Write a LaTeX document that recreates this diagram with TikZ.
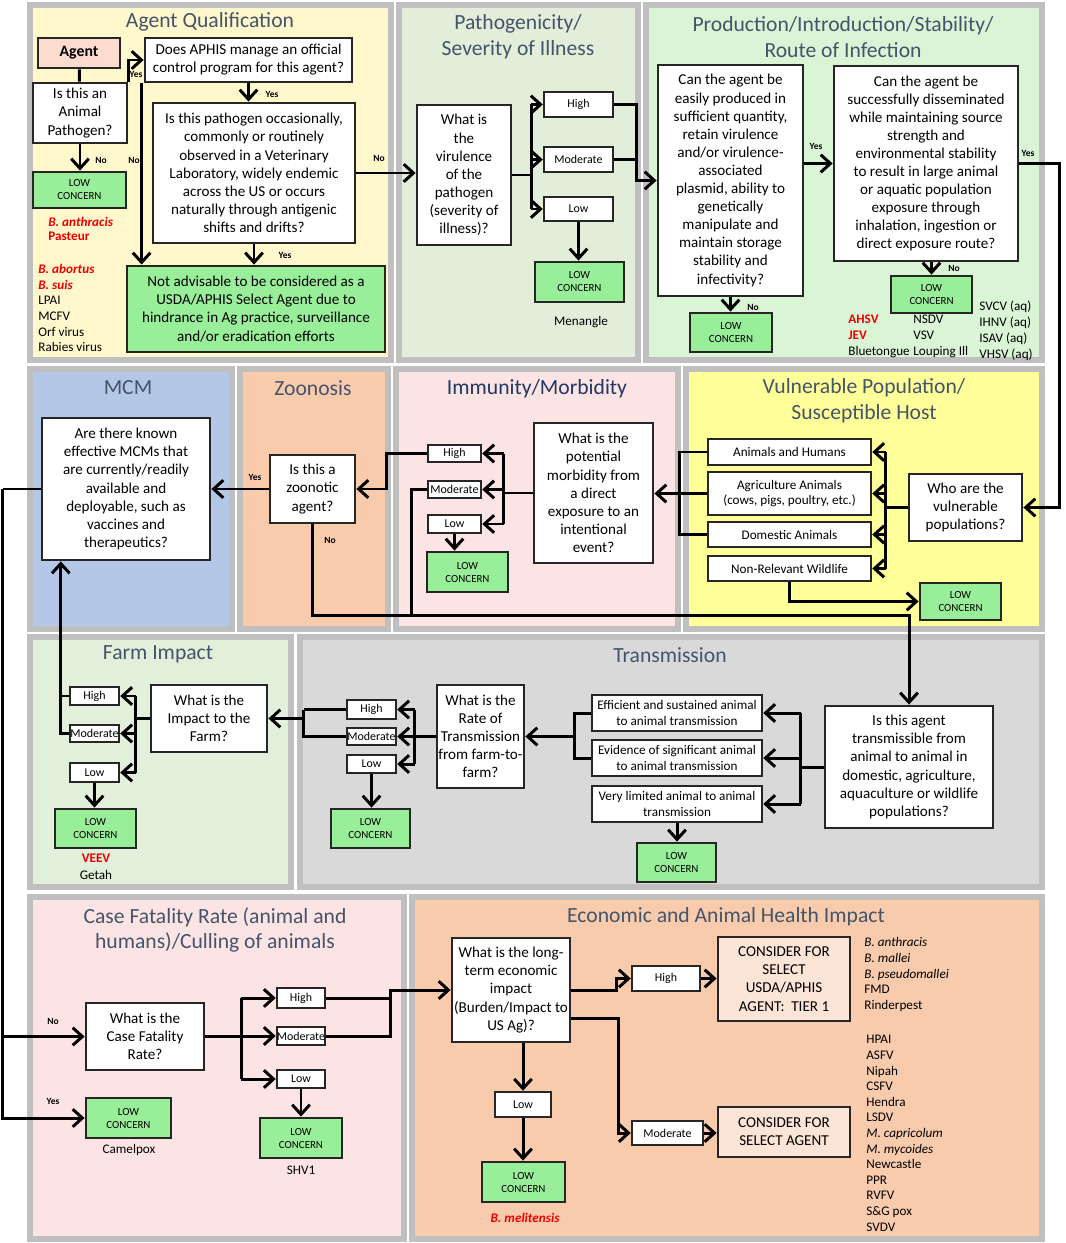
\documentclass[tikz,border=0pt]{standalone}
\usepackage{fontspec}
\setmainfont{Carlito}
\usetikzlibrary{arrows.meta,calc}

\tikzset{
  >={Straight Barb[length=5.5pt,width=10pt]},
  bb/.style args={#1/#2/#3/#4}{at={({(#1+#3)/2},{(#2+#4)/2})},
      minimum width={(#3-#1)*0.02cm}, minimum height={(#4-#2)*0.02cm}},
  panel/.style={draw=panelgray, line width=3.2pt},
  ptitle/.style={text=titlecol, font=\fontsize{12.3}{14.6}\selectfont, align=center},
  qbox/.style={draw=boxline, fill=white, line width=1.6pt, inner sep=0pt, align=center,
               font=\fontsize{8.6}{10.3}\selectfont},
  lvlbox/.style={qbox, line width=1.4pt, font=\fontsize{6.8}{7.4}\selectfont},
  hostbox/.style={qbox, line width=1.4pt, font=\fontsize{7.5}{9}\selectfont},
  lowbox/.style={qbox, fill=lowgreen, font=\fontsize{6.2}{7.4}\selectfont},
  conn/.style={line width=1.7pt, ->},
  wire/.style={line width=1.7pt},
  yn/.style={font=\bfseries\fontsize{5.4}{6}\selectfont, inner sep=0pt},
  spec/.style={font=\fontsize{7.5}{9}\selectfont, align=left, anchor=north west, inner sep=0pt},
  redsp/.style={spec, text=agentred, font=\bfseries\fontsize{7.5}{9}\selectfont},
}

\begin{document}
\begin{tikzpicture}[x=0.02cm, y=-0.02cm]
  \definecolor{panelgray}{HTML}{BFBFBF}
  \definecolor{titlecol}{HTML}{44546A}
  \definecolor{navytitle}{HTML}{1F3864}
  \definecolor{boxline}{HTML}{262626}
  \definecolor{lowgreen}{HTML}{99EE99}
  \definecolor{agentfill}{HTML}{FBDCCF}
  \definecolor{tierfill}{HTML}{FCE4D6}
  \definecolor{agentred}{HTML}{EE0000}
  \definecolor{cAQ}{HTML}{FFF8CC}
  \definecolor{cPS}{HTML}{E2EED9}
  \definecolor{cPR}{HTML}{DAF5D6}
  \definecolor{cMC}{HTML}{B4C7E7}
  \definecolor{cZO}{HTML}{F8CBAD}
  \definecolor{cIM}{HTML}{FCE4E4}
  \definecolor{cVP}{HTML}{FFFF99}
  \definecolor{cFI}{HTML}{E2EFDA}
  \definecolor{cTR}{HTML}{D9D9D9}
  \definecolor{cCF}{HTML}{FDE4E4}
  \definecolor{cEC}{HTML}{F8CBAD}
  \useasboundingbox (0,0) rectangle (1065,1243);

  % panels
  \draw[panel, fill=cAQ] ( 30,  5) rectangle ( 391, 360);
  \draw[panel, fill=cPS] (399,  5) rectangle ( 638, 360);
  \draw[panel, fill=cPR] (646,  5) rectangle (1042, 360);
  \draw[panel, fill=cMC] ( 30,369) rectangle ( 232, 629);
  \draw[panel, fill=cZO] (240,369) rectangle ( 388, 629);
  \draw[panel, fill=cIM] (396,369) rectangle ( 678, 629);
  \draw[panel, fill=cVP] (686,369) rectangle (1042, 629);
  \draw[panel, fill=cFI] ( 30,637) rectangle ( 291, 887);
  \draw[panel, fill=cTR] (300,637) rectangle (1042, 887);
  \draw[panel, fill=cCF] ( 30,897) rectangle ( 404,1239);
  \draw[panel, fill=cEC] (412,897) rectangle (1042,1239);

  \node[ptitle] (tAQ) at (210, 22) {Agent Qualification};
  \node[ptitle] (tPS) at (518, 37) {Pathogenicity/\\Severity of Illness};
  \node[ptitle] (tPR) at (843, 37) {Production/Introduction/Stability/\\Route of Infection};
  \node[ptitle] (tMC) at (128,388) {MCM};
  \node[ptitle] (tZO) at (313,388) {Zoonosis};
  \node[ptitle, text=navytitle] (tIM) at (537,389) {Immunity/Morbidity};
  \node[ptitle] (tVP) at (864,401) {Vulnerable Population/\\Susceptible Host};
  \node[ptitle] (tFI) at (158,654) {Farm Impact};
  \node[ptitle] (tTR) at (670,655) {Transmission};
  \node[ptitle] (tCF) at (215,930) {Case Fatality Rate (animal and\\humans)/Culling of animals};
  \node[ptitle] (tEC) at (726,917) {Economic and Animal Health Impact};

  % agent qualification
  \node[qbox, fill=agentfill, font=\bfseries\fontsize{9}{10}\selectfont, bb=38/38/120/68] (agent) {Agent};
  \node[qbox, bb=33/83/127/143] (isanimal) {Is this an\\Animal\\Pathogen?};
  \node[qbox, bb=145/38/352/82] (aphis) {Does APHIS manage an official\\control program for this agent?};
  \node[qbox, bb=153/103/355/243] (qpath) {Is this pathogen occasionally,\\commonly or routinely\\observed in a Veterinary\\Laboratory, widely endemic\\across the US or occurs\\naturally through antigenic\\shifts and drifts?};
  \node[qbox, fill=lowgreen, bb=127/266/385/352] (notadv) {Not advisable to be considered as a\\USDA/APHIS Select Agent due to\\hindrance in Ag practice, surveillance\\and/or eradication efforts};
  \node[lowbox, bb=33/172/126/208] (low1) {LOW\\CONCERN};

  \draw[wire] (agent) -- (isanimal);
  \draw[conn] (isanimal.north east) |- (aphis.west);
  \draw[conn] (aphis.south) -- (aphis.south |- qpath.north);
  \draw[conn] ($(aphis.south west)+(-2,0)$) -- ($(aphis.south west |- notadv.north)+(-2,0)$);
  \draw[conn] (qpath.south) -- (qpath.south |- notadv.north);
  \draw[conn] (isanimal.south) -- (isanimal.south |- low1.north);
  \node[yn] (y1) at (136, 74) {Yes};
  \node[yn] (y2) at (272, 94) {Yes};
  \node[yn] (n1) at (134,160) {No};
  \node[yn] (y3) at (285,255) {Yes};
  \node[yn] (n2) at (101,160) {No};
  \node[yn] (n3) at (379,158) {No};

  \node[redsp, font=\bfseries\itshape\fontsize{7.5}{9}\selectfont] (anth) at (48,217) {B. anthracis};
  \node[redsp] (past) at (48,232) {Pasteur};
  \node[redsp, font=\bfseries\itshape\fontsize{7.5}{8.95}\selectfont] (abort) at (38,264) {B. abortus\\B. suis};
  \node[spec, font=\fontsize{7.5}{8.95}\selectfont] (aqlist) at (38,296) {LPAI\\MCFV\\Orf virus\\Rabies virus};

  % pathogenicity
  \node[qbox, bb=417/105/511/245] (qvir) {What is\\the\\virulence\\of the\\pathogen\\(severity of\\illness)?};
  \node[lvlbox, bb=544/92/613/117] (high1) {High};
  \node[lvlbox, bb=544/147/613/172] (mod1) {Moderate};
  \node[lvlbox, bb=544/197/613/221] (low2) {Low};
  \node[lowbox, bb=535/262/624/302] (lowc2) {LOW\\CONCERN};
  \node[spec, anchor=center] (mena) at (581,322) {Menangle};

  \draw[conn] (qpath.east) -- (qpath.east -| qvir.west);
  \draw[wire] (qvir.east) -- ++(19,0) coordinate (b1);
  \draw[wire] (b1 |- high1) -- (b1 |- low2);
  \foreach \n in {high1,mod1,low2}
    \draw[conn] (b1 |- \n.west) -- (\n.west);
  \draw[conn] (low2.south) -- (low2.south |- lowc2.north);

  % production / route
  \node[qbox, bb=658/65/803/296] (qprod1) {Can the agent be\\easily produced in\\sufficient quantity,\\retain virulence\\and/or virulence-\\associated\\plasmid, ability to\\genetically\\manipulate and\\maintain storage\\stability and\\infectivity?};
  \node[qbox, bb=834/66/1018/261] (qprod2) {Can the agent be\\successfully disseminated\\while maintaining source\\strength and\\environmental stability\\to result in large animal\\or aquatic population\\exposure through\\inhalation, ingestion or\\direct exposure route?};
  \node[lowbox, bb=690/313/772/352] (lowc3) {LOW\\CONCERN};
  \node[lowbox, bb=891/276/972/313] (lowc4) {LOW\\CONCERN};

  \coordinate (b2) at ($(high1.east)+(22,0)$);
  \draw[conn] (high1.east) -- (b2) |- (qprod1.west);
  \draw[wire] (mod1.east) -- (mod1.east -| b2);
  \draw[conn] (qprod2.west -| qprod1.east) -- (qprod2.west);
  \draw[conn] (qprod1.south) -- (qprod1.south |- lowc3.north);
  \draw[conn] (lowc4.north |- qprod2.south) -- (lowc4.north);
  \node[yn] (y4) at (816,146) {Yes};
  \node[yn] (n4) at (753,307) {No};
  \node[yn] (n5) at (954,268) {No};
  \node[yn] (y5) at (1028,153) {Yes};

  \node[redsp] (ahsv) at (848,315) {AHSV\\JEV};
  \node[spec] (blue) at (848,346) {Bluetongue};
  \node[spec] (nsdv) at (913,315) {NSDV\\VSV\\Louping Ill};
  \node[spec] (aqua) at (979,301) {SVCV (aq)\\IHNV (aq)\\ISAV (aq)\\VHSV (aq)};

  % vulnerable population
  \node[hostbox, bb=708/439/871/465] (ah) {Animals and Humans};
  \node[hostbox, bb=708/472/871/515] (ag) {Agriculture Animals\\(cows, pigs, poultry, etc.)};
  \node[hostbox, bb=708/522/871/547] (dom) {Domestic Animals};
  \node[hostbox, bb=708/556/871/581] (wild) {Non-Relevant Wildlife};
  \node[qbox, bb=909/474/1022/541] (qwho) {Who are the\\vulnerable\\populations?};
  \node[lowbox, bb=920/583/1001/620] (lowc6) {LOW\\CONCERN};

  \draw[conn] (qprod2.east) -- ++(40,0) |- (qwho.east);
  \draw[wire] (qwho.west) -- ++(-22,0) coordinate (b5);
  \draw[wire] (b5 |- ah) -- (b5 |- wild);
  \foreach \n in {ah,ag,dom,wild}
    \draw[conn] (b5 |- \n.east) -- (\n.east);
  \draw[conn] (wild.south) |- (lowc6.west);

  % immunity / morbidity
  \node[qbox, bb=534/423/653/563] (qmorb) {What is the\\potential\\morbidity from\\a direct\\exposure to an\\intentional\\event?};
  \node[lvlbox, bb=428/445/481/462] (high3) {High};
  \node[lvlbox, bb=428/481/481/498] (mod3) {Moderate};
  \node[lvlbox, bb=428/515/481/533] (low3) {Low};
  \node[lowbox, bb=427/552/508/592] (lowc5) {LOW\\CONCERN};

  \draw[wire] (ah.west) -- ++(-27,0) coordinate (b4) -- (b4 |- dom.west) -- (dom.west);
  \draw[conn] (ag.west) -- (ag.west -| qmorb.east);
  \draw[wire] (qmorb.west) -- ++(-29,0) coordinate (b3);
  \draw[wire] (b3 |- high3) -- (b3 |- low3);
  \foreach \n in {high3,mod3,low3}
    \draw[conn] (b3 |- \n.east) -- (\n.east);
  \draw[conn] (low3.south) -- (low3.south |- lowc5.north);

  % zoonosis and MCM
  \node[qbox, bb=270/455/355/523] (qzoo) {Is this a\\zoonotic\\agent?};
  \node[qbox, bb=42/418/210/560] (qmcm) {Are there known\\effective MCMs that\\are currently/readily\\available and\\deployable, such as\\vaccines and\\therapeutics?};

  \draw[conn] (high3.west) -- ++(-40,0) |- (qzoo.east);
  \draw[conn] (qzoo.west) -- (qzoo.west -| qmcm.east);
  \node[yn] (y6) at (255,477) {Yes};
  \node[yn] (n6) at (330,540) {No};

  % transmission
  \node[qbox, bb=825/706/993/828] (qtrans) {Is this agent\\transmissible from\\animal to animal in\\domestic, agriculture,\\aquaculture or wildlife\\populations?};
  \node[hostbox, bb=592/695/762/731] (eff) {Efficient and sustained animal\\to animal transmission};
  \node[hostbox, bb=592/740/762/776] (evid) {Evidence of significant animal\\to animal transmission};
  \node[hostbox, bb=592/786/762/822] (vlim) {Very limited animal to animal\\transmission};
  \node[lowbox, bb=637/843/716/882] (lowc10) {LOW\\CONCERN};
  \node[qbox, bb=437/685/524/788] (qrate) {What is the\\Rate of\\Transmission\\from farm-to-\\farm?};
  \node[lvlbox, bb=347/700/396/719] (high5) {High};
  \node[lvlbox, bb=347/728/396/745] (mod5) {Moderate};
  \node[lvlbox, bb=347/755/396/773] (low5) {Low};
  \node[lowbox, bb=331/809/410/848] (lowc9) {LOW\\CONCERN};

  \draw[conn] (qzoo.south) -- ++(0,91) -| (qtrans.north);
  \draw[wire] (mod3.west) -- ++(-15,0) -- ++(0,124);
  \draw[wire] (qtrans.west) -- ++(-23,0) coordinate (b12);
  \draw[wire] (b12 |- eff) -- (b12 |- vlim);
  \foreach \n in {eff,evid,vlim}
    \draw[conn] (b12 |- \n.east) -- (\n.east);
  \draw[conn] (vlim.south) -- (vlim.south |- lowc10.north);
  \draw[wire] (eff.west) -- ++(-16,0) coordinate (b11) -- (b11 |- evid.west) -- (evid.west);
  \draw[conn] (b11 |- qrate.east) -- (qrate.east);
  \draw[wire] (qrate.west) -- ++(-21,0) coordinate (b9);
  \draw[wire] (b9 |- high5) -- (b9 |- low5);
  \foreach \n in {high5,mod5,low5}
    \draw[conn] (b9 |- \n.east) -- (\n.east);
  \draw[conn] (low5.south) -- (low5.south |- lowc9.north);

  % farm impact
  \node[qbox, bb=151/685/267/752] (qfarm) {What is the\\Impact to the\\Farm?};
  \node[lvlbox, bb=70/687/119/705] (high4) {High};
  \node[lvlbox, bb=70/725/119/742] (mod4) {Moderate};
  \node[lvlbox, bb=70/763/119/782] (low4) {Low};
  \node[lowbox, bb=55/809/136/848] (lowc8) {LOW\\CONCERN};
  \node[redsp, anchor=center] (veev) at (96,858) {VEEV};
  \node[spec, anchor=center] (getah) at (96,875) {Getah};

  \draw[wire] (high5.west) -- ++(-42,0) coordinate (b10);
  \draw[wire] (mod5.west) -| (b10);
  \draw[conn] (b10 |- qfarm.east) -- (qfarm.east);
  \draw[wire] (qfarm.west) -- ++(-14,0) coordinate (b7);
  \draw[wire] (b7 |- high4) -- (b7 |- low4);
  \foreach \n in {high4,mod4,low4}
    \draw[conn] (b7 |- \n.east) -- (\n.east);
  \draw[conn] (low4.south) -- (low4.south |- lowc8.north);
  \draw[wire] (high4.west) -- ++(-8,0) coordinate (b8);
  \draw[conn] (mod4.west) -| (b8 |- qmcm.south);

  % case fatality rate
  \node[qbox, bb=86/1003/204/1070] (qcfr) {What is the\\Case Fatality\\Rate?};
  \node[lowbox, bb=86/1098/171/1138] (lowc7) {LOW\\CONCERN};
  \node[lvlbox, bb=277/988/325/1008] (high6) {High};
  \node[lvlbox, bb=277/1027/325/1045] (mod6) {Moderate};
  \node[lvlbox, bb=277/1070/325/1088] (low6) {Low};
  \node[lowbox, bb=260/1118/342/1158] (lowc11) {LOW\\CONCERN};
  \node[spec, anchor=center] (camel) at (129,1150) {Camelpox};
  \node[spec, anchor=center] (shv) at (301,1170) {SHV1};
  \node[yn] (n7) at (53,1021) {No};
  \node[yn] (y7) at (53,1101) {Yes};

  \draw[wire] (qmcm.west) -- ++(-38,0) coordinate (b6);
  \draw[conn] (b6) |- (lowc7.west);
  \draw[conn] (b6 |- qcfr.west) -- (qcfr.west);
  \draw[wire] (qcfr.east) -- ++(36,0) coordinate (b13);
  \draw[wire] (b13 |- high6) -- (b13 |- low6);
  \foreach \n in {high6,mod6,low6}
    \draw[conn] (b13 |- \n.west) -- (\n.west);
  \draw[conn] (low6.south) -- (low6.south |- lowc11.north);

  % economic impact
  \node[qbox, bb=452/938/570/1042] (qecon) {What is the long-\\term economic\\impact\\(Burden/Impact to\\US Ag)?};
  \node[lvlbox, bb=632/966/700/991] (high7) {High};
  \node[lvlbox, bb=632/1121/703/1145] (mod7) {Moderate};
  \node[qbox, fill=tierfill, bb=718/937/850/1021] (tier1) {CONSIDER FOR\\SELECT\\USDA/APHIS\\AGENT:\ \ TIER 1};
  \node[qbox, fill=tierfill, bb=718/1107/850/1157] (selag) {CONSIDER FOR\\SELECT AGENT};
  \node[lvlbox, bb=495/1092/551/1117] (low7) {Low};
  \node[lowbox, bb=482/1162/565/1202] (lowc12) {LOW\\CONCERN};
  \node[redsp, anchor=center, font=\bfseries\itshape\fontsize{7.5}{9}\selectfont] (meli) at (525,1218) {B. melitensis};

  \coordinate (b14) at ($(mod6.east)+(64,0)$);
  \draw[conn] (mod6.east) -- (b14) |- (qecon.west);
  \draw[wire] (high6.east) -- (high6.east -| b14);
  \draw[conn] (qecon.east) -- ++(45,0) |- (high7.west);
  \draw[conn] ($(qecon.east)+(0,28)$) -- ++(47,0) |- (mod7.west);
  \draw[conn] (high7.east) -- (high7.east -| tier1.west);
  \draw[conn] (mod7.east) -- (mod7.east -| selag.west);
  \draw[conn] (low7.north |- qecon.south) -- (low7.north);
  \draw[conn] (low7.south) -- (low7.south |- lowc12.north);

  \node[spec, font=\itshape\fontsize{7.5}{9}\selectfont] (t1list) at (864,937) {B. anthracis\\B. mallei\\B. pseudomallei};
  \node[spec] (t1rest) at (864,985) {FMD\\Rinderpest};
  \node[spec, font=\fontsize{7.5}{8.88}\selectfont] (salist) at (866,1035) {HPAI\\ASFV\\Nipah\\CSFV\\Hendra\\LSDV\\\textit{M. capricolum}\\\textit{M. mycoides}\\Newcastle\\PPR\\RVFV\\S\&G pox\\SVDV};
\end{tikzpicture}
\end{document}
